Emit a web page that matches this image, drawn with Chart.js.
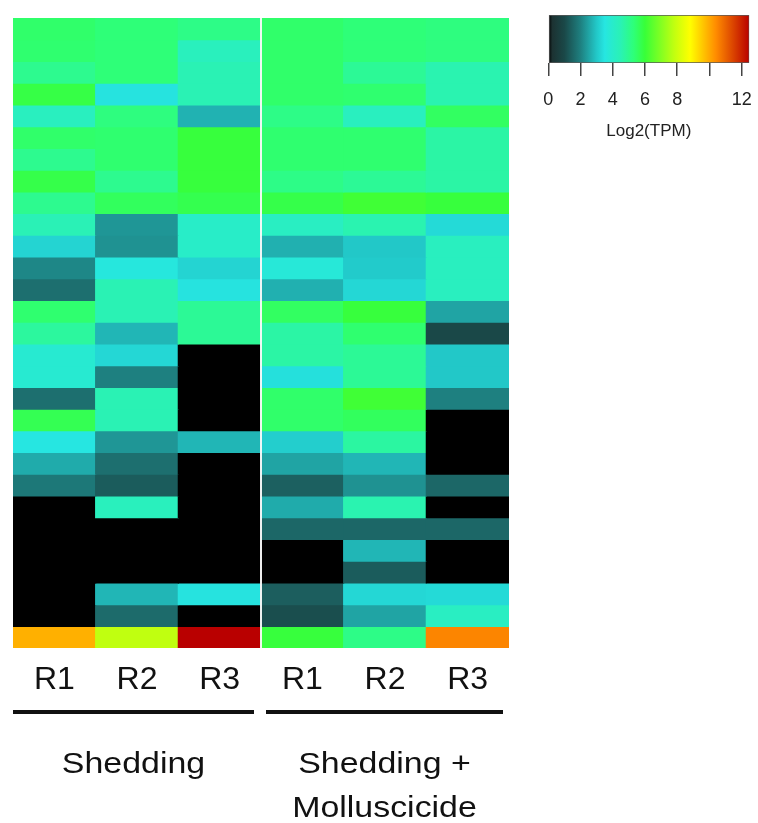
<!DOCTYPE html>
<html>
<head>
<meta charset="utf-8">
<script src="https://cdn.jsdelivr.net/npm/chart.js@4.4.1/dist/chart.umd.min.js"></script>
<style>
  html, body { margin: 0; padding: 0; background: #ffffff; }
  #wrap { position: relative; width: 758px; height: 823px; overflow: hidden; }
  #heat { position: absolute; left: 0; top: 0; }
  #key { position: absolute; left: 530px; top: 0; }
</style>
</head>
<body>
<div id="wrap">
  <canvas id="heat" width="758" height="823"></canvas>
  <canvas id="key" width="228" height="160"></canvas>
</div>
<script>
// Column (replicate) labels and the two sample groups they belong to
const columnLabels = ['R1', 'R2', 'R3', 'R1', 'R2', 'R3'];
const groupNames = [['Shedding'], ['Shedding +', 'Molluscicide']];
const groupColumns = [[0, 2], [3, 5]];

// Log2(TPM) per gene (top row first), one array per replicate
const shedR1 = [5.45, 5.4, 5.0, 5.85, 4.25, 5.45, 5.0, 5.8, 5.0, 4.45, 3.2, 2.1, 1.7, 5.4, 4.8,
                3.85, 3.85, 1.7, 5.7, 3.5, 2.6, 1.85, 0, 0, 0, 0, 0, 0, 9.9];
const shedR2 = [5.3, 5.3, 5.3, 3.45, 5.2, 5.4, 5.4, 5.0, 5.6, 2.3, 2.25, 3.6, 4.5, 4.5, 2.75,
                3.25, 2.0, 4.5, 4.5, 2.3, 1.7, 1.35, 4.3, 0, 0, 0, 2.75, 1.63, 7.8];
const shedR3 = [5.1, 4.3, 4.5, 4.5, 2.7, 5.95, 5.95, 5.95, 5.75, 4.05, 4.05, 3.2, 3.45, 4.9, 4.9,
                0, 0, 0, 0, 2.75, 0, 0, 0, 0, 0, 0, 3.45, 0, 12.47];
const mollR1 = [5.45, 5.45, 5.45, 5.45, 5.1, 5.4, 5.4, 5.1, 5.8, 4.2, 2.67, 3.7, 2.67, 5.55, 4.7,
                4.7, 3.4, 5.45, 5.45, 3.1, 2.5, 1.43, 2.6, 1.55, 0, 0, 1.4, 1.1, 5.95];
const mollR2 = [5.3, 5.3, 4.9, 5.4, 4.25, 5.4, 5.4, 4.9, 6.1, 4.55, 3.0, 3.05, 3.25, 5.95, 5.4,
                4.9, 4.9, 6.1, 5.6, 4.75, 2.75, 2.25, 4.55, 1.55, 2.75, 1.35, 3.25, 2.5, 5.1];
const mollR3 = [5.2, 5.2, 4.55, 4.55, 5.55, 4.7, 4.7, 4.7, 5.95, 3.3, 4.25, 4.25, 4.25, 2.5, 1.0,
                3.0, 3.0, 2.0, 0, 0, 0, 1.55, 0, 1.55, 0, 0, 3.3, 4.2, 10.5];

// Colour key ticks
const keyTicks = [0, 2, 4, 6, 8, 10, 12];
const keyTickLabels = ['0', '2', '4', '6', '8', '', '12'];
const keyTitle = 'Log2(TPM)';

const columns = [shedR1, shedR2, shedR3, mollR1, mollR2, mollR3];
const rowCount = shedR1.length;
const keyMax = Math.max(...columns.flat());

// Colour ramp: black -> teal -> cyan -> green -> yellow -> orange -> red
const rampStops = [
  [0.0,  [0, 0, 0]],
  [0.25, [28, 50, 50]],
  [1.0,  [26, 72, 72]],
  [2.0,  [30, 128, 128]],
  [3.0,  [34, 200, 200]],
  [3.5,  [38, 230, 225]],
  [4.5,  [42, 242, 180]],
  [5.3,  [46, 255, 120]],
  [6.0,  [56, 255, 56]],
  [7.8,  [192, 255, 16]],
  [8.8,  [255, 255, 0]],
  [10.4, [255, 140, 0]],
  [12.47, [185, 0, 0]]
];

function rampColor(v) {
  if (v <= rampStops[0][0]) return rgbStr(rampStops[0][1]);
  for (let i = 1; i < rampStops.length; i++) {
    const [v1, c1] = rampStops[i];
    const [v0, c0] = rampStops[i - 1];
    if (v <= v1) {
      const t = (v - v0) / (v1 - v0);
      return rgbStr(c0.map((c, k) => c + (c1[k] - c) * t));
    }
  }
  return rgbStr(rampStops[rampStops.length - 1][1]);
}
function rgbStr(c) {
  return 'rgb(' + c.map(x => Math.round(x)).join(',') + ')';
}

const FONT = '"Liberation Sans", Arial, Helvetica, sans-serif';
Chart.defaults.font.family = FONT;

// One floating-bar dataset per gene row; each bar spans [row, row + 1]
const heatDatasets = [];
for (let r = 0; r < rowCount; r++) {
  heatDatasets.push({
    label: 'row ' + (r + 1),
    data: columns.map(() => [r, r + 1]),
    backgroundColor: columns.map(col => rampColor(col[r])),
    borderWidth: 0,
    grouped: false,
    barPercentage: 1,
    categoryPercentage: 1,
    inflateAmount: 0.6
  });
}

// White separator between the two sample groups
const groupDivider = {
  id: 'groupDivider',
  afterDatasetsDraw(chart) {
    const { ctx, chartArea, scales: { x } } = chart;
    const xs = (x.getPixelForValue(2) + x.getPixelForValue(3)) / 2;
    ctx.save();
    ctx.strokeStyle = 'rgba(250,250,250,0.95)';
    ctx.lineWidth = 2;
    ctx.beginPath();
    ctx.moveTo(xs, chartArea.top);
    ctx.lineTo(xs, chartArea.bottom);
    ctx.stroke();
    ctx.restore();
  }
};

// Group brackets and group names under the replicate labels
const groupBrackets = {
  id: 'groupBrackets',
  afterDraw(chart) {
    const { ctx, chartArea, scales: { x } } = chart;
    const colW = x.getPixelForValue(1) - x.getPixelForValue(0);
    const lineY = chartArea.bottom + 64;
    const insets = [[0, 7], [5, 6]];
    ctx.save();
    groupColumns.forEach(([c0, c1], g) => {
      const left = x.getPixelForValue(c0) - colW / 2 + insets[g][0];
      const right = x.getPixelForValue(c1) + colW / 2 - insets[g][1];
      ctx.strokeStyle = '#111111';
      ctx.lineWidth = 4;
      ctx.beginPath();
      ctx.moveTo(left, lineY);
      ctx.lineTo(right, lineY);
      ctx.stroke();

      const cx = (left + right) / 2;
      ctx.fillStyle = '#111111';
      ctx.font = '30px ' + FONT;
      ctx.textAlign = 'center';
      ctx.textBaseline = 'alphabetic';
      groupNames[g].forEach((txt, i) => {
        ctx.save();
        ctx.translate(cx, lineY + 61 + i * 43.5);
        ctx.scale(1.13, 1);
        ctx.fillText(txt, 0, 0);
        ctx.restore();
      });
    });
    ctx.restore();
  }
};

new Chart(document.getElementById('heat'), {
  type: 'bar',
  data: { labels: columnLabels, datasets: heatDatasets },
  options: {
    responsive: false,
    animation: false,
    devicePixelRatio: 1,
    layout: { padding: { left: 13, right: 249, top: 18, bottom: 110.6 } },
    plugins: { legend: { display: false }, tooltip: { enabled: false } },
    scales: {
      x: {
        type: 'category',
        offset: true,
        grid: { display: false, drawTicks: false },
        border: { display: false },
        ticks: { padding: 13, color: '#111111', font: { size: 32 }, maxRotation: 0, autoSkip: false }
      },
      y: {
        type: 'linear',
        min: 0,
        max: rowCount,
        reverse: true,
        display: false
      }
    }
  },
  plugins: [groupDivider, groupBrackets]
});

// Colour key: a single floating bar from 0 to the maximum, filled with the ramp
function keyFill(context) {
  const chart = context.chart;
  if (!chart.chartArea) return null;
  const xs = chart.scales.x;
  const g = chart.ctx.createLinearGradient(xs.getPixelForValue(0), 0, xs.getPixelForValue(keyMax), 0);
  rampStops.forEach(([v, c]) => g.addColorStop(Math.min(1, v / keyMax), rgbStr(c)));
  return g;
}

// Height reserved under the key bar for tick marks, numbers and the title
const keyAxisHeight = 78.7;

new Chart(document.getElementById('key'), {
  type: 'bar',
  data: {
    labels: [''],
    datasets: [{
      data: [[0, keyMax]],
      backgroundColor: keyFill,
      borderColor: 'rgba(60,60,60,0.85)',
      borderWidth: 1,
      borderSkipped: false,
      barPercentage: 1,
      categoryPercentage: 1
    }]
  },
  options: {
    indexAxis: 'y',
    responsive: false,
    animation: false,
    devicePixelRatio: 1,
    layout: { padding: { left: 18.3, right: 8.7, top: 15, bottom: 18.3 } },
    plugins: { legend: { display: false }, tooltip: { enabled: false } },
    scales: {
      x: {
        type: 'linear',
        min: 0,
        max: keyMax,
        afterBuildTicks(scale) { scale.ticks = keyTicks.map(v => ({ value: v })); },
        afterFit(scale) { scale.height = keyAxisHeight; },
        grid: { display: true, drawOnChartArea: false, drawTicks: true, tickLength: 13, color: '#444444', lineWidth: 1.5 },
        border: { display: false },
        ticks: {
          padding: 0,
          color: '#222222',
          // tall line box pushes the numbers below the tick marks
          font: { size: 18, lineHeight: 2.644 },
          maxRotation: 0,
          autoSkip: false,
          callback: (value) => keyTickLabels[keyTicks.indexOf(value)]
        },
        title: { display: true, text: keyTitle, color: '#222222', font: { size: 17 }, padding: { top: 0, bottom: 0 } }
      },
      y: { display: false }
    }
  }
});
</script>
</body>
</html>
